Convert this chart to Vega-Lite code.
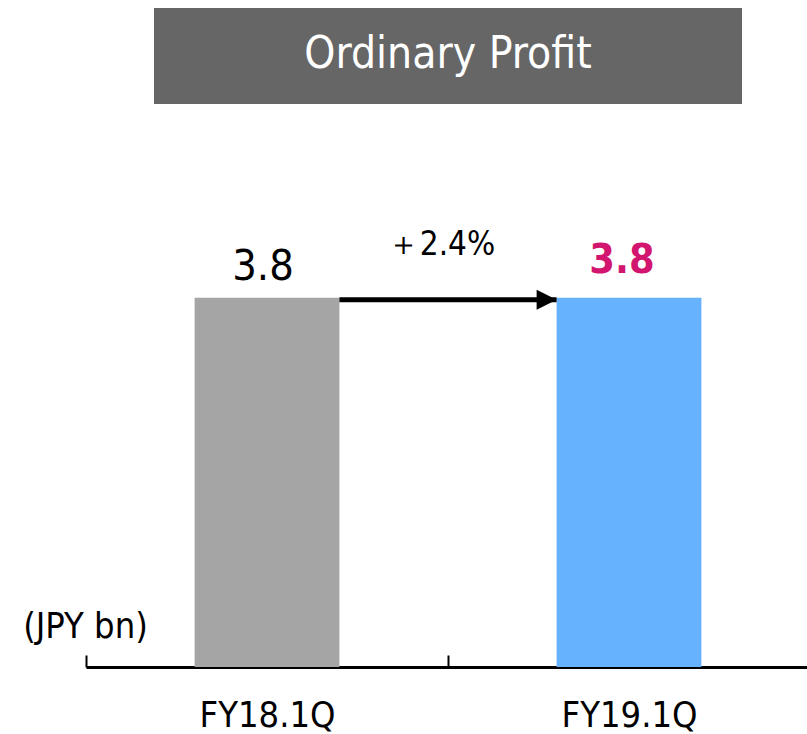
{
  "$schema": "https://vega.github.io/schema/vega-lite/v6.json",
  "padding": {"left": 22, "top": 8, "right": 0, "bottom": 0},
  "bounds": "flush",
  "center": true,
  "spacing": 77,
  "background": "white",
  "config": {"view": {"stroke": null}, "font": "DejaVu Sans Condensed"},
  "vconcat": [
    {
      "width": 588,
      "height": 96,
      "data": {"values": [{"title": "Ordinary Profit"}]},
      "layer": [
        {
          "mark": {"type": "rect", "color": "#666666"},
          "encoding": {
            "x": {"value": 0},
            "x2": {"value": "width"},
            "y": {"value": 0},
            "y2": {"value": "height"}
          }
        },
        {
          "mark": {"type": "text", "color": "white", "fontSize": 44, "baseline": "middle", "dy": -1},
          "encoding": {"text": {"field": "title"}}
        }
      ]
    },
    {
      "width": 724,
      "height": 486,
      "data": {"values": [
        {"period": "FY18.1Q", "value": 3.8, "label": "3.8"},
        {"period": "FY19.1Q", "value": 3.8, "label": "3.8"}
      ]},
      "layer": [
        {
          "mark": {"type": "bar"},
          "encoding": {
            "x": {
              "field": "period", "type": "nominal",
              "scale": {"paddingInner": 0.6, "paddingOuter": 0.3},
              "axis": {
                "title": null, "labelAngle": 0,
                "domainColor": "black", "domainWidth": 3,
                "tickColor": "black", "tickWidth": 2, "tickSize": -12,
                "tickOffset": -181, "labelOffset": 181,
                "labelFontSize": 36, "labelColor": "black", "labelPadding": 71,
                "labelBaseline": "alphabetic"
              }
            },
            "y": {
              "field": "value", "type": "quantitative",
              "scale": {"domain": [0, 5]},
              "axis": {
                "title": "(JPY bn)", "labels": false, "ticks": false, "domain": false, "grid": false,
                "titleAngle": 0, "titleX": -1, "titleY": 456, "titleAlign": "center",
                "titleBaseline": "alphabetic", "titleFontSize": 36, "titleFontWeight": "normal",
                "titleColor": "black"
              }
            },
            "color": {
              "field": "period", "type": "nominal",
              "scale": {"range": ["#A5A5A5", "#66B2FF"]},
              "legend": null
            }
          }
        },
        {
          "data": {"values": [{"from": "FY18.1Q", "to": "FY19.1Q", "value": 3.8, "change": "＋2.4%"}]},
          "mark": {"type": "rule", "color": "black", "strokeWidth": 5, "yOffset": 2},
          "encoding": {
            "x": {"field": "from", "type": "nominal", "bandPosition": 1},
            "x2": {"field": "to", "bandPosition": 0},
            "y": {"field": "value", "type": "quantitative"}
          }
        },
        {
          "data": {"values": [{"from": "FY18.1Q", "to": "FY19.1Q", "value": 3.8, "change": "＋2.4%"}]},
          "mark": {"type": "point", "shape": "M-1,-1L1,0L-1,1Z", "filled": true, "color": "black", "opacity": 1, "size": 400, "xOffset": -10, "yOffset": 2},
          "encoding": {
            "x": {"field": "to", "type": "nominal", "bandPosition": 0},
            "y": {"field": "value", "type": "quantitative"}
          }
        },
        {
          "data": {"values": [{"from": "FY18.1Q", "to": "FY19.1Q", "value": 3.8, "change": "＋2.4%"}]},
          "mark": {"type": "text", "color": "black", "fontSize": 33, "dx": -7, "dy": -43, "baseline": "alphabetic"},
          "encoding": {
            "y": {"field": "value", "type": "quantitative"},
            "text": {"field": "change"}
          }
        },
        {
          "transform": [{"filter": "datum.period == 'FY18.1Q'"}],
          "mark": {"type": "text", "color": "black", "fontSize": 43, "dx": -4, "dy": -18, "baseline": "alphabetic"},
          "encoding": {
            "x": {"field": "period", "type": "nominal"},
            "y": {"field": "value", "type": "quantitative"},
            "text": {"field": "label"}
          }
        },
        {
          "transform": [{"filter": "datum.period == 'FY19.1Q'"}],
          "mark": {"type": "text", "color": "#D2156E", "fontSize": 41, "fontWeight": "bold", "dx": -7, "dy": -25, "baseline": "alphabetic"},
          "encoding": {
            "x": {"field": "period", "type": "nominal"},
            "y": {"field": "value", "type": "quantitative"},
            "text": {"field": "label"}
          }
        }
      ]
    }
  ]
}
